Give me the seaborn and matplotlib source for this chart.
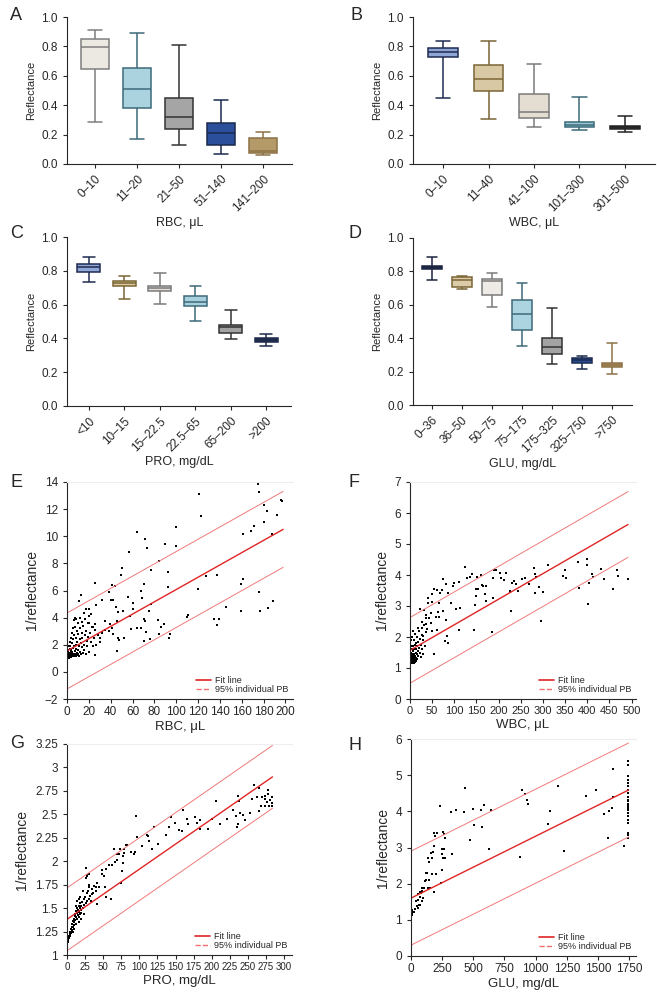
import numpy as np
import pandas as pd
import matplotlib
matplotlib.use("Agg")
import matplotlib.pyplot as plt
from matplotlib.lines import Line2D
from matplotlib.ticker import FuncFormatter
import seaborn as sns

import warnings
warnings.filterwarnings("ignore")

# ---------------- box plot data: [min, q1, median, q3, max] ----------------
rbc_groups = ["0–10", "11–20", "21–50", "51–140", "141–200"]
rbc_boxes = [[0.283, 0.647, 0.794, 0.851, 0.914],
             [0.170, 0.378, 0.507, 0.656, 0.889],
             [0.131, 0.240, 0.319, 0.450, 0.812],
             [0.066, 0.127, 0.213, 0.281, 0.437],
             [0.061, 0.075, 0.088, 0.174, 0.217]]

wbc_groups = ["0–10", "11–40", "41–100", "101–300", "301–500"]
wbc_boxes = [[0.446, 0.726, 0.762, 0.790, 0.839],
             [0.303, 0.500, 0.581, 0.676, 0.837],
             [0.253, 0.310, 0.351, 0.473, 0.679],
             [0.231, 0.253, 0.267, 0.283, 0.457],
             [0.215, 0.238, 0.251, 0.260, 0.324]]

pro_groups = ["<10", "10–15", "15–22.5", "22.5–65", "65–200", ">200"]
pro_boxes = [[0.732, 0.791, 0.825, 0.843, 0.880],
             [0.634, 0.709, 0.726, 0.742, 0.770],
             [0.602, 0.681, 0.699, 0.713, 0.785],
             [0.502, 0.589, 0.618, 0.648, 0.713],
             [0.394, 0.429, 0.469, 0.482, 0.569],
             [0.356, 0.376, 0.390, 0.402, 0.425]]

glu_groups = ["0–36", "36–50", "50–75", "75–175", "175–325", "325–750", ">750"]
glu_boxes = [[0.747, 0.817, 0.827, 0.835, 0.888],
             [0.695, 0.709, 0.747, 0.767, 0.775],
             [0.586, 0.661, 0.741, 0.755, 0.789],
             [0.355, 0.450, 0.544, 0.631, 0.729],
             [0.243, 0.307, 0.345, 0.402, 0.578],
             [0.217, 0.251, 0.267, 0.281, 0.291],
             [0.187, 0.225, 0.237, 0.251, 0.371]]

rbc_fill = ["#ece8e2", "#abd3df", "#a5a5a5", "#2b4f9b", "#b59a69"]
rbc_edge = ["#7f7f7f", "#3d6a7a", "#333333", "#1b2a4e", "#8c7245"]
wbc_fill = ["#8fa7d6", "#d8c8a4", "#e3ddd2", "#9fc9d6", "#3a3a3a"]
wbc_edge = ["#1f2b4f", "#7b6535", "#7a7a7a", "#3a6b7a", "#222222"]
pro_fill = ["#8fa7d6", "#dcc9a2", "#e5e1da", "#a7d0dc", "#a3a3a3", "#1e2b4b"]
pro_edge = ["#1f2b4f", "#7b6535", "#7a7a7a", "#3d6a7a", "#333333", "#1e2b4b"]
glu_fill = ["#1e2b4b", "#dccba8", "#eeebe6", "#acd4e0", "#a3a3a3", "#2b4f9b", "#b59a69"]
glu_edge = ["#1b2540", "#7b6535", "#7a7a7a", "#3d6a7a", "#333333", "#1b2a4e", "#8c7245"]

# ---------------- scatter data ----------------
rbc_x = [175, 176, 121.3, 122.3, 180.6, 183, 192.3, 195.7, 197.2, 180.6, 171.7, 168.4, 161, 187.4,
         99.5, 64.2, 71.5, 73.4, 89.4, 99.5, 56.5, 84.2, 50.7, 49.2, 77.1, 92.5, 127.5, 137.6, 161.6,
         159.8, 119.8, 92.5, 25.8, 41.2, 43.6, 70.7, 67.9, 68.5, 12.9, 11.4, 38.1, 40.2, 42.4, 55.6,
         60.2, 76.5, 31.6, 26.7, 17.8, 19.7, 22.1, 15.4, 7.7, 44.5, 46.4, 51.6, 60.8, 75, 58.1, 70.7,
         71.3, 83.6, 89.1, 85.7, 110, 111, 134.3, 139.5, 137.6, 146, 159.8, 175.7, 176.6, 184, 188.6,
         34.7, 39.3, 63.9, 68.2, 72.5, 58.7, 45.8, 34.4, 31.6, 29.8, 46.7, 47.9, 52.2, 70.7, 76.2,
         83.9, 93.1, 94.3, 41.2, 42.4, 45.5, 25.8, 38.4, 25.2, 20.6, 23.4,
         0.5, 0.8, 1.0, 1.2, 1.5, 1.8, 2.0, 2.3, 2.5, 2.8, 3.0, 3.2, 3.5, 3.8, 4.0, 4.2, 4.5, 4.8,
         5.0, 5.3, 5.5, 5.8, 6.0, 6.3, 6.5, 6.8, 7.0, 7.3, 7.5, 7.8, 8.0, 8.3, 8.5, 8.8, 9.0, 9.3,
         9.5, 9.8, 10.0, 10.3, 10.5, 11.0, 11.3, 11.5, 12.0, 12.3, 12.5, 13.0, 13.3, 13.5, 14.0,
         14.5, 15.0, 15.5, 16.0, 16.5, 17.0, 17.5, 18.0, 18.5, 19.0, 19.5, 20.0, 21.0, 22.0, 23.0,
         24.0, 25.0, 26.0, 27.0, 28.0, 30.0, 32.0, 0.3, 1.3, 2.2, 3.3, 0.6, 1.7, 2.7, 3.7, 4.7,
         5.7, 6.7, 8.7, 11.7, 13.7, 16.7, 20.5]
rbc_y = [13.88, 13.29, 13.1, 11.52, 12.3, 11.86, 11.54, 12.7, 12.62, 11.08, 10.76, 10.4, 10.17, 10.2,
         10.66, 10.34, 9.78, 9.11, 9.45, 9.28, 8.84, 8.16, 7.64, 7.15, 7.5, 7.4, 7.05, 7.17, 6.83,
         6.51, 6.11, 6.28, 6.58, 6.41, 6.31, 6.46, 5.99, 5.47, 5.65, 5.25, 5.86, 5.30, 5.27, 5.52,
         5.08, 5.0, 5.27, 4.92, 4.61, 4.61, 4.29, 4.37, 4.0, 4.76, 4.44, 4.49, 4.64, 4.49, 4.12, 3.93,
         3.78, 3.80, 3.56, 3.33, 4.07, 4.2, 3.88, 3.9, 3.48, 4.79, 4.47, 5.92, 4.47, 4.71, 5.23,
         3.78, 3.53, 3.21, 3.21, 2.97, 3.14, 3.78, 3.12, 2.97, 2.53, 2.53, 2.38, 2.5, 2.3, 2.40,
         2.77, 2.53, 2.82, 3.21, 2.77, 1.57, 1.25, 3.04, 3.53, 3.6, 3.31,
         1.1, 1.3, 1.2, 1.5, 1.1, 1.4, 1.25, 1.7, 1.15, 1.35, 1.9, 1.2, 1.45, 1.1, 1.6, 1.3, 2.1, 1.2,
         1.5, 1.75, 1.15, 2.4, 1.35, 1.9, 1.2, 2.7, 1.55, 1.3, 3.3, 2.0, 1.2, 1.7, 2.5, 1.4, 3.0, 1.25,
         2.2, 1.6, 3.6, 1.35, 2.8, 1.9, 1.2, 2.4, 3.2, 1.5, 2.1, 1.3, 2.9, 1.8, 2.5,
         1.4, 3.4, 2.0, 1.6, 2.7, 3.0, 1.3, 2.3, 1.9, 3.6, 2.6, 1.5, 2.9, 2.2, 3.3,
         1.9, 2.5, 3.1, 2.0, 2.7, 2.2, 2.9, 1.0, 1.05, 1.0, 1.08, 1.6, 1.9, 2.2, 2.5, 2.9,
         3.2, 3.8, 3.9, 4.0, 3.7, 3.9, 4.1]

wbc_x = [123, 193, 188.5, 140.6, 161, 150.5, 75, 80.5, 100.3, 110.2, 97.3, 129.2, 134.5, 164.9,
         161.9, 172.5, 203.6, 215.8, 205.2, 212, 187, 229.5, 238.6, 234.8, 226.4, 224.9, 244, 252.3,
         259.9, 268.2, 278.9, 282, 283.4, 291, 301, 282, 310.8, 345.7, 351.8, 350.3, 379.2, 400.5,
         400.5, 411, 412.6, 403.5, 382.2, 402, 430, 438.5, 466, 470, 457.4, 493, 228, 294.8, 186,
         145, 110, 112.5, 104, 81, 84.4, 79, 85.9, 54, 149.7, 146, 169.5, 171.7, 148, 154.3, 187.7,
         85, 72.2, 54, 60, 49.4, 39.5, 41, 50.2, 64.6, 68.4, 92, 75.2, 62.3, 47.1, 35, 32.7, 22,
         42.6, 46.4, 35, 38.8, 27.4, 35, 30.4, 61.6, 59.3, 66.1, 49.4,
         1, 1.5, 2, 2.5, 3, 3.5, 4, 4.5, 5, 5.5, 6, 6.5, 7, 7.5, 8, 8.5, 9, 9.5, 10, 10.5, 11, 11.5,
         12, 12.5, 13, 13.5, 14, 14.5, 15, 15.5, 16, 16.5, 17, 17.5, 18, 19, 20, 21, 22, 23, 24, 25,
         26, 27, 28, 29, 30, 32, 34, 36, 0.5, 1.2, 2.2, 3.2, 4.2, 5.2, 6.2, 7.2, 8.2, 9.2, 10.2,
         11.2, 12.2, 13.2, 0.8, 1.8, 2.8, 3.8, 4.8, 5.8, 6.8, 7.8]
wbc_y = [4.27, 4.15, 4.15, 4.04, 3.99, 3.95, 3.88, 3.71, 3.73, 3.77, 3.66, 3.89, 3.94, 3.66,
         3.67, 3.65, 4.06, 4.06, 3.89, 3.85, 3.89, 3.73, 3.72, 3.81, 3.48, 3.44, 3.5, 3.86,
         3.89, 3.72, 4.23, 4.03, 3.94, 3.6, 3.46, 3.42, 4.33, 3.97, 3.91, 4.16, 4.41, 4.53,
         4.31, 4.03, 3.95, 3.73, 3.58, 3.05, 4.2, 3.87, 4.15, 3.97, 3.55, 3.88, 2.85, 2.53, 2.16,
         2.22, 2.23, 2.95, 2.9, 2.54, 2.03, 1.86, 1.81, 1.46, 3.32, 3.02, 3.39, 3.17, 3.56, 3.55, 3.26,
         3.43, 3.52, 3.54, 3.53, 3.4, 3.27, 3.1, 3.14, 3.11, 3.41, 3.1, 2.85, 2.82, 2.77, 2.7, 2.87, 2.9,
         2.6, 2.46, 2.43, 2.27, 2.3, 2.17, 2.03, 2.21, 2.64, 2.64, 2.18,
         1.2, 1.35, 1.25, 1.5, 1.3, 1.22, 1.45, 1.6, 1.3, 1.18, 1.4, 1.7, 1.28, 1.55, 1.35, 1.9, 1.25,
         1.45, 1.62, 1.3, 1.75, 1.4, 2.1, 1.5, 1.33, 1.8, 1.22, 1.6, 2.0, 1.45, 1.7, 1.3, 2.3, 1.55,
         1.85, 1.4, 1.65, 2.2, 1.5, 1.95, 1.35, 1.75, 2.5, 1.6, 2.05, 1.45, 1.9, 2.4, 1.7, 2.6,
         1.3, 1.5, 1.7, 1.9, 1.15, 2.0, 1.2, 2.2, 1.6, 1.15, 1.4, 1.2, 1.3, 1.25, 1.4, 1.2, 1.38,
         1.6, 1.45, 1.55, 1.33, 1.25]

pro_x = [258.8, 266, 277.3, 278, 283.8, 273.6, 269, 263, 255.6, 273.6, 276.9, 280, 283, 279.2,
         273.2, 268.5, 283.8, 265.3, 252.3, 239.4, 243.5, 233.3, 234.3, 237, 245.4, 236.6, 238.4,
         229, 221.8, 211, 206.5, 200.5, 194.9, 183.3, 183.3, 176.9, 179.2, 166.2, 166.7, 158.8,
         159.7, 154.6, 148.6, 143.5, 141.2, 136.6, 125.9, 120.8, 113.9, 112, 110.6, 117.6, 104.2,
         96.8, 95.8, 94, 92.6, 88, 83.3, 81.5, 78.7, 79.2, 77.3, 77.3, 81, 75.9, 75, 73.6, 71.8, 69,
         64.8, 69.4, 67, 61.6, 58.3, 53.7, 48.6, 48.6, 50.9, 44, 39.4, 35.2, 26.9, 30.6, 60.2, 54.2,
         51.9, 41.2,
         1, 1.5, 2, 2.5, 3, 3.5, 4, 4.5, 5, 5.5, 6, 6.5, 7, 7.5, 8, 8.5, 9, 9.5, 10, 10.5, 11, 11.5,
         12, 12.5, 13, 13.5, 14, 14.5, 15, 15.5, 16, 16.5, 17, 17.5, 18, 18.5, 19, 19.5, 20, 21, 22,
         23, 24, 25, 26, 27, 28, 29, 30, 31, 32, 33, 34, 36, 38, 40, 42, 44, 8, 10, 12, 14, 16, 18,
         20, 22, 24, 26, 28, 30, 17, 28]
pro_y = [2.81, 2.78, 2.76, 2.72, 2.69, 2.70, 2.69, 2.69, 2.66, 2.66, 2.63, 2.65, 2.62, 2.59,
         2.59, 2.59, 2.59, 2.54, 2.51, 2.51, 2.49, 2.48, 2.37, 2.40, 2.44, 2.70, 2.64,
         2.55, 2.45, 2.40, 2.64, 2.45, 2.34, 2.34, 2.44, 2.47, 2.41, 2.45, 2.40, 2.32,
         2.55, 2.33, 2.41, 2.47, 2.36, 2.28, 2.18, 2.36, 2.22, 2.27, 2.28, 2.13, 2.16,
         2.26, 2.48, 2.10, 2.08, 2.10, 2.17, 2.17, 2.13, 2.09, 2.06, 1.98, 2.17, 1.90, 1.77, 2.13,
         2.08, 2.08, 2.13, 2.01, 1.99, 1.96, 1.96, 1.92, 1.91, 1.86, 1.84, 1.73, 1.73, 1.65, 1.93,
         1.86, 1.60, 1.62, 1.73, 1.54,
         1.14, 1.17, 1.15, 1.2, 1.18, 1.22, 1.2, 1.25, 1.23, 1.28, 1.24, 1.3, 1.27, 1.33, 1.3, 1.36,
         1.32, 1.38, 1.35, 1.42, 1.37, 1.44, 1.33, 1.47, 1.4, 1.45, 1.38, 1.5, 1.43, 1.48, 1.41,
         1.52, 1.46, 1.5, 1.44, 1.55, 1.48, 1.52, 1.45, 1.57, 1.5, 1.6, 1.53, 1.62, 1.55, 1.66,
         1.58, 1.68, 1.6, 1.72, 1.63, 1.58, 1.7, 1.66, 1.74, 1.68, 1.77, 1.72, 1.25, 1.28, 1.52,
         1.58, 1.35, 1.62, 1.38, 1.68, 1.44, 1.82, 1.84, 1.75, 1.6, 1.85]

glu_x = [435, 231, 323, 357.5, 427, 500, 564.5, 589, 640, 508, 572.6, 470, 629, 328, 188, 207,
         194, 255, 266, 274, 245, 247, 255, 263, 274, 180, 188, 161, 167, 140, 145, 199, 247,
         237, 172, 183, 148, 118, 132, 124, 110, 156, 140, 102, 91, 86, 81, 70, 59, 75, 99, 86,
         59, 38, 62, 46, 54, 73, 32, 24, 11, 8, 5, 16, 890, 911, 933, 935, 874, 1097, 1118, 1180,
         1226, 1403, 1484, 1546, 1586, 1618, 1616, 1624, 1583, 1712,
         1740, 1742, 1738, 1741, 1744, 1739, 1742, 1740, 1737, 1743, 1741, 1739, 1742, 1740,
         1744, 1738, 1741, 1743, 1739, 1740, 1742, 1741]
glu_y = [4.65, 4.16, 3.98, 4.03, 3.97, 4.06, 4.05, 4.18, 4.03, 3.63, 3.57, 3.22, 2.97, 2.83,
         3.40, 3.40, 3.31, 3.42, 3.37, 3.27, 2.83, 2.97, 2.71, 2.96, 2.70, 2.88, 3.04, 2.84, 2.71,
         2.70, 2.59, 2.27, 2.37, 2.02, 2.27, 1.77, 2.09, 2.30, 2.30, 2.10, 2.06, 1.88, 1.88, 1.88,
         1.87, 1.79, 1.74, 1.76, 1.71, 1.64, 1.60, 1.51, 1.56, 1.51, 1.40, 1.37, 1.33, 1.42, 1.31,
         1.23, 1.26, 1.19, 1.14, 1.21, 4.60, 4.49, 4.32, 4.20, 2.73, 3.64, 4.01, 4.69, 2.90, 4.43,
         4.60, 3.94, 4.00, 4.41, 4.09, 5.17, 3.25, 3.05,
         5.38, 5.29, 4.99, 4.88, 4.78, 4.69, 4.60, 4.51, 4.41, 4.32, 4.28, 4.21, 4.14, 4.09,
         4.05, 3.95, 3.86, 3.75, 3.68, 3.40, 3.35, 3.27]

# regression read-offs: intercept, slope, 95% band half-width, last x
fit_intercept = [1.54, 1.57, 1.38, 1.60]
fit_slope = [0.0453, 0.00825, 0.00535, 0.001713]
band_half = [2.80, 1.06, 0.335, 1.30]
fit_xmax = [198, 492, 284, 1745]

# ---------------- style ----------------
sns.set_style("ticks")
plt.rcParams["font.family"] = ["Liberation Sans", "DejaVu Sans"]
plt.rcParams["axes.linewidth"] = 0.8
plt.rcParams["xtick.major.width"] = 0.8
plt.rcParams["ytick.major.width"] = 0.8
plt.rcParams["xtick.major.size"] = 3
plt.rcParams["ytick.major.size"] = 3
plt.rcParams["xtick.labelsize"] = 8.5
plt.rcParams["ytick.labelsize"] = 8.5

W, H = 657, 992
fig = plt.figure(figsize=(W / 100, H / 100), dpi=100)


def add_ax(left, right, top, bottom):
    return fig.add_axes([left / W, 1 - bottom / H, (right - left) / W, (bottom - top) / H])


def draw_boxes(ax, groups, boxes, fills, edges, xlabel, xlim):
    for i, g in enumerate(groups):
        d = pd.DataFrame({"grp": [g] * len(boxes[i]), "val": boxes[i]})
        sns.boxplot(data=d, x="grp", y="val", order=groups, ax=ax, color=fills[i],
                    linecolor=edges[i], saturation=1, whis=(0, 100), width=0.65,
                    linewidth=1.1, showfliers=False)
    ax.set_xlim(*xlim)
    ax.set_ylim(0, 1.0)
    ax.set_yticks(np.arange(0, 1.01, 0.2))
    ax.yaxis.set_major_formatter(FuncFormatter(lambda v, p: f"{v:.1f}"))
    ax.set_xticks(range(len(groups)))
    ax.set_xticklabels(groups, rotation=45, ha="right", rotation_mode="anchor")
    ax.set_xlabel(xlabel, fontsize=9, labelpad=2)
    ax.set_ylabel("Reflectance", fontsize=8, labelpad=4)
    sns.despine(ax=ax)


def draw_scatter(ax, k, xs, ys, xlabel, xlim, xticks, ylim, yticks, xtick_size=8.5):
    ax.spines["top"].set_color("#eeeeee")
    ax.spines["right"].set_visible(False)
    sns.scatterplot(x=xs, y=ys, ax=ax, s=3, color="black", marker="s", linewidth=0)
    xx = np.array([0, fit_xmax[k]])
    yy = fit_intercept[k] + fit_slope[k] * xx
    ax.plot(xx, yy + band_half[k], color="#f07a7a", lw=0.7)
    ax.plot(xx, yy - band_half[k], color="#f07a7a", lw=0.7)
    ax.plot(xx, yy, color="#e02424", lw=1.0)
    ax.set_xlim(*xlim)
    ax.set_ylim(*ylim)
    ax.set_xticks(xticks)
    ax.set_yticks(yticks)
    ax.tick_params(axis="x", labelsize=xtick_size, pad=2)
    ax.yaxis.set_major_formatter(FuncFormatter(lambda v, p: f"{v:g}".replace("-", "\u2212")))
    ax.set_xlabel(xlabel, fontsize=9.5, labelpad=2)
    ax.set_ylabel("1/reflectance", fontsize=10, labelpad=4)
    handles = [Line2D([], [], color="#e02424", lw=1.2),
               Line2D([], [], color="#f26d6d", lw=1.0, ls="--")]
    ax.legend(handles, ["Fit line", "95% individual PB"], loc="lower right", fontsize=6.5,
              frameon=False, handlelength=1.6, labelspacing=0.05, borderaxespad=0.1,
              handletextpad=0.5)


axA = add_ax(67, 292, 17, 164)
draw_boxes(axA, rbc_groups, rbc_boxes, rbc_fill, rbc_edge, "RBC, \u03bcL", (-0.67, 4.69))
axB = add_ax(413, 655, 17, 164)
draw_boxes(axB, wbc_groups, wbc_boxes, wbc_fill, wbc_edge, "WBC, \u03bcL", (-0.66, 4.66))
axC = add_ax(67, 291, 237, 406)
draw_boxes(axC, pro_groups, pro_boxes, pro_fill, pro_edge, "PRO, mg/dL", (-0.62, 5.7))
axD = add_ax(413, 632, 238, 405)
draw_boxes(axD, glu_groups, glu_boxes, glu_fill, glu_edge, "GLU, mg/dL", (-0.63, 6.67))

axE = add_ax(67, 293, 482, 699)
draw_scatter(axE, 0, rbc_x, rbc_y, "RBC, \u03bcL", (0, 207), np.arange(0, 201, 20),
             (-2, 14), np.arange(-2, 15, 2))
axF = add_ax(410, 636, 482, 699)
draw_scatter(axF, 1, wbc_x, wbc_y, "WBC, \u03bcL", (0, 510), np.arange(0, 501, 50),
             (0, 7), np.arange(0, 8, 1), xtick_size=8)
axG = add_ax(67, 292, 744, 955)
draw_scatter(axG, 2, pro_x, pro_y, "PRO, mg/dL", (0, 311), np.arange(0, 301, 25),
             (1, 3.25), np.arange(1, 3.26, 0.25), xtick_size=7)
axH = add_ax(411, 636, 739, 956)
draw_scatter(axH, 3, glu_x, glu_y, "GLU, mg/dL", (0, 1805), np.arange(0, 1751, 250),
             (0, 6), np.arange(0, 7, 1))

for letter, px, py in [("A", 10, 15), ("B", 350, 15), ("C", 10, 233), ("D", 348, 233),
                       ("E", 10, 483), ("F", 348, 483), ("G", 10, 743), ("H", 348, 745)]:
    fig.text(px / W, 1 - py / H, letter, fontsize=13, ha="left", va="center")

fig.savefig("out.png", dpi=100)
